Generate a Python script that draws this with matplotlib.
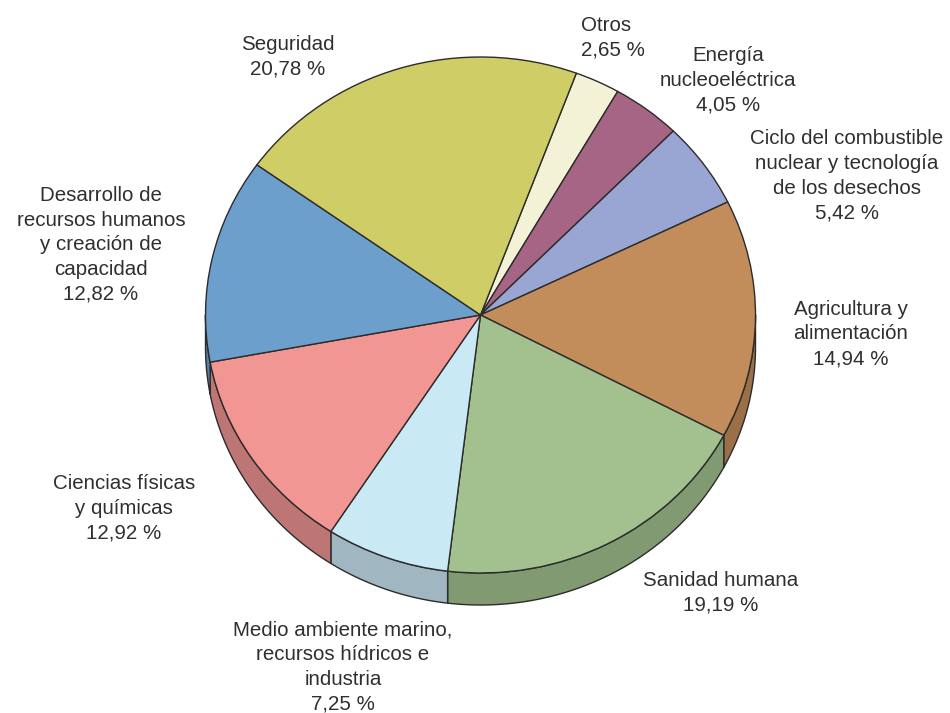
"""Pie chart with a tilted look: a squashed ax.pie plus a darker rim below it."""
import numpy as np
import matplotlib
matplotlib.use("Agg")
import matplotlib.pyplot as plt

plt.rcParams["font.family"] = ["Liberation Sans", "DejaVu Sans"]

W, H = 950, 713
CX, CY = 480.5, 315   # pie centre, pixels from the top left
RX, RY = 275, 258     # pie radii, pixels
DEPTH = 32 / RY
START = 69.6
EDGE = "#2b2b2b"

categories = ["Otros", "Energía\nnucleoeléctrica",
              "Ciclo del combustible\nnuclear y tecnología\nde los desechos",
              "Agricultura y\nalimentación", "Sanidad humana",
              "Medio ambiente marino,\nrecursos hídricos e\nindustria",
              "Ciencias físicas\ny químicas",
              "Desarrollo de\nrecursos humanos\ny creación de\ncapacidad",
              "Seguridad"]
values = [2.65, 4.05, 5.42, 14.94, 19.19, 7.25, 12.92, 12.82, 20.78]
value_labels = ["2,65 %", "4,05 %", "5,42 %", "14,94 %", "19,19 %",
                "7,25 %", "12,92 %", "12,82 %", "20,78 %"]
colors = ["#F3F2D6", "#A66585", "#99A5D3", "#C28C5B", "#A2C18F",
          "#C9E9F5", "#F29694", "#6C9FCC", "#CFCE66"]
side_colors = ["#C2C1AB", "#85516A", "#7A84A9", "#9B7049", "#819A72",
               "#A0B6C1", "#BD7674", "#5680A3", "#A5A552"]
# label anchor (centre of the text block), pixels
label_x = [613, 728, 847, 851, 721, 343, 124, 101, 288]
label_y = [38, 80, 176, 334, 593, 667, 508, 245, 57]
label_align = ["left", "center", "center", "center", "center",
               "center", "center", "center", "center"]

fig = plt.figure(figsize=(W / 100, H / 100), dpi=100)
ax = fig.add_axes([0, 0, 1, 1])


def px(x, y):
    return (x - CX) / RX, (CY - y) / RY


# rim: only the front half of each slice shows
edges = START - np.cumsum([0] + values) * 360 / sum(values)
for i in range(len(values)):
    hi, lo = edges[i], edges[i + 1]
    # move into the 180..360 range used by the front half
    for shift in (0, 360):
        a = max(lo + shift, 180)
        b = min(hi + shift, 360)
        if b <= a:
            continue
        t = np.radians(np.linspace(a, b, 80))
        xs = np.r_[np.cos(t), np.cos(t[::-1])]
        ys = np.r_[np.sin(t), np.sin(t[::-1]) - DEPTH]
        ax.fill(xs, ys, facecolor=side_colors[i], edgecolor=EDGE, linewidth=1.0,
                joinstyle="round", zorder=1)

wedges, _ = ax.pie(values, colors=colors, startangle=START, counterclock=False,
                   radius=1, wedgeprops={"edgecolor": EDGE, "linewidth": 1.0})
for w in wedges:
    w.set_zorder(2)

ax.set_aspect("auto")
ax.set_xlim(-CX / RX, (W - CX) / RX)
ax.set_ylim((CY - H) / RY, CY / RY)
ax.axis("off")

for name, val, lx, ly, al in zip(categories, value_labels, label_x, label_y, label_align):
    x, y = px(lx, ly)
    ax.text(x, y, f"{name}\n{val}", ha="center", va="center", multialignment=al,
            fontsize=14.8, color="#2f2f2f", linespacing=1.38, zorder=3)

fig.savefig("out.png", dpi=100)
